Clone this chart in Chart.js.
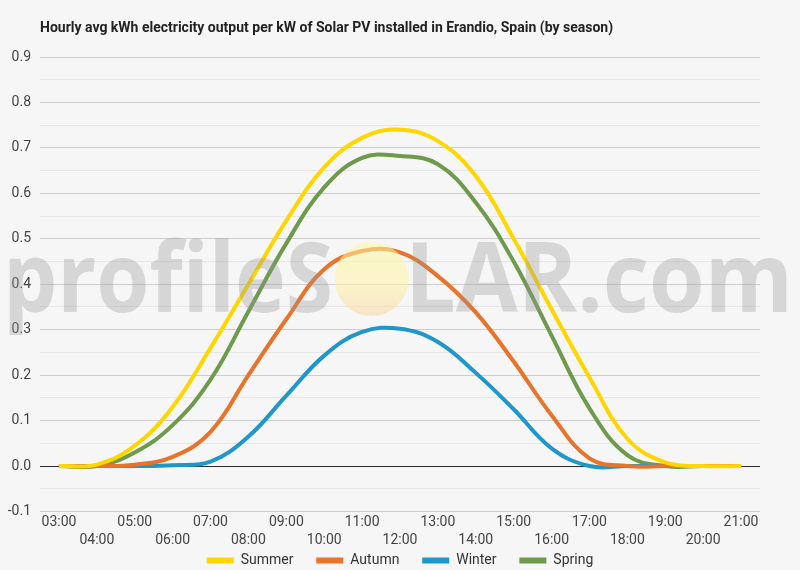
<!DOCTYPE html>
<html>
<head>
<meta charset="utf-8">
<script src="https://cdn.jsdelivr.net/npm/chart.js@4.4.1/dist/chart.umd.min.js"></script>
<style>
html,body{margin:0;padding:0;background:#f6f6f6;}
#wrap{width:800px;height:570px;}
</style>
</head>
<body>
<div id="wrap"><canvas id="c" width="800" height="570"></canvas></div>
<script>
// ---- data ----
const hours = ['03:00','04:00','05:00','06:00','07:00','08:00','09:00','10:00','11:00','12:00',
               '13:00','14:00','15:00','16:00','17:00','18:00','19:00','20:00','21:00'];
const summer = [0, 0.003, 0.045, 0.13, 0.26, 0.40, 0.54, 0.657, 0.722, 0.74, 0.715, 0.638, 0.50, 0.345, 0.195, 0.06, 0.008, 0, 0];
const autumn = [0, 0, 0.003, 0.02, 0.075, 0.20, 0.323, 0.433, 0.473, 0.47, 0.418, 0.338, 0.23, 0.112, 0.017, 0, 0, 0, 0];
const winter = [0, 0, 0, 0.002, 0.01, 0.065, 0.155, 0.243, 0.295, 0.302, 0.273, 0.205, 0.125, 0.039, 0, 0, 0, 0, 0];
const spring = [0, 0, 0.03, 0.09, 0.19, 0.34, 0.49, 0.613, 0.678, 0.682, 0.664, 0.58, 0.45, 0.287, 0.127, 0.024, 0, 0, 0];
const seriesNames = ['Summer', 'Autumn', 'Winter', 'Spring'];
const seriesValues = [summer, autumn, winter, spring];
const seriesColors = ['#ffd600', '#e8732a', '#2196c9', '#6e9a4c'];
const yMin = -0.1, yMax = 0.9, yStep = 0.05;
const titleText = 'Hourly avg kWh electricity output per kW of Solar PV installed in Erandio, Spain (by season)';
const watermarkLeft = 'profileS', watermarkRight = 'LAR.com';

// ---- plugins ----
const bgPlugin = {
  id: 'bg',
  beforeDraw(chart) {
    const ctx = chart.ctx;
    ctx.save();
    ctx.fillStyle = '#f6f6f6';
    ctx.fillRect(0, 0, chart.width, chart.height);
    ctx.restore();
  }
};

function fitText(ctx, text, x0, x1, baseline) {
  const w = ctx.measureText(text).width;
  ctx.save();
  ctx.translate(x0, baseline);
  ctx.scale((x1 - x0) / w, 1);
  ctx.fillText(text, 0, 0);
  ctx.restore();
}

const watermarkPlugin = {
  id: 'watermark',
  afterDatasetsDraw(chart) {
    const ctx = chart.ctx;
    ctx.save();
    const cx = 371.5, cy = 279, r = 37;
    const g = ctx.createLinearGradient(0, cy - r, 0, cy + r);
    g.addColorStop(0, 'rgba(255,248,160,0.55)');
    g.addColorStop(0.55, 'rgba(255,244,165,0.55)');
    g.addColorStop(1, 'rgba(248,212,160,0.55)');
    ctx.fillStyle = g;
    ctx.beginPath();
    ctx.arc(cx, cy, r, 0, Math.PI * 2);
    ctx.fill();
    ctx.fillStyle = 'rgba(150,150,150,0.33)';
    ctx.font = 'bold 96px "Open Sans", Lato, sans-serif';
    ctx.textBaseline = 'alphabetic';
    fitText(ctx, watermarkLeft, 3, 333, 312);
    fitText(ctx, watermarkRight, 405, 793, 312);
    ctx.restore();
  }
};

// ---- chart ----
const datasets = seriesNames.map((name, i) => ({
  label: name,
  data: seriesValues[i],
  borderColor: seriesColors[i],
  backgroundColor: seriesColors[i],
  borderWidth: 4,
  pointRadius: 0,
  pointHoverRadius: 0,
  tension: 0.4,
  fill: false,
  yAxisID: 'y'
}));

const legendGap = '      ';

new Chart(document.getElementById('c'), {
  type: 'line',
  data: { labels: hours, datasets },
  plugins: [bgPlugin, watermarkPlugin],
  options: {
    responsive: false,
    animation: false,
    devicePixelRatio: 1,
    layout: { padding: { left: 0, right: 0, top: 0, bottom: -7.5 } },
    plugins: {
      title: {
        display: true,
        text: titleText,
        align: 'start',
        fullSize: false,
        color: '#222',
        font: { family: 'Roboto', size: 14, weight: 'bold', lineHeight: 1.2 },
        padding: { top: 20, bottom: 20.2 }
      },
      legend: {
        position: 'bottom',
        labels: {
          color: '#333',
          font: { family: 'Roboto', size: 14 },
          boxWidth: 27,
          boxHeight: 6,
          padding: 2,
          generateLabels(chart) {
            const n = chart.data.datasets.length;
            return chart.data.datasets.map((ds, i) => ({
              text: ds.label + (i < n - 1 ? legendGap : ''),
              fillStyle: ds.borderColor,
              strokeStyle: ds.borderColor,
              lineWidth: 0,
              hidden: false,
              datasetIndex: i,
              fontColor: '#333'
            }));
          }
        }
      },
      tooltip: { enabled: false }
    },
    scales: {
      x: {
        offset: true,
        grid: { display: false, drawTicks: false },
        border: { display: false },
        ticks: {
          autoSkip: false,
          maxRotation: 0,
          minRotation: 0,
          padding: 2.5,
          color: '#444',
          font: { family: 'Roboto', size: 14, lineHeight: 1.25 },
          callback(value, index) {
            const l = hours[index];
            return index % 2 === 0 ? l : ['', l];
          }
        }
      },
      y: {
        min: yMin,
        max: yMax,
        border: { display: false },
        grid: {
          drawTicks: false,
          lineWidth: 1,
          color(ctx) {
            const v = ctx.tick ? ctx.tick.value : 0;
            const k = Math.round(v * 100);
            if (k === 0) return '#2a2a2a';
            if (k % 10 === 0) return '#cdcdcd';
            return '#e6e6e6';
          }
        },
        ticks: {
          stepSize: yStep,
          autoSkip: false,
          padding: 9,
          color: '#444',
          font: { family: 'Roboto', size: 14 },
          callback(value) {
            const k = Math.round(value * 100);
            return k % 10 === 0 ? (k / 100).toFixed(1) : '';
          }
        },
        afterFit(scale) { scale.width = 40; }
      },
      yRight: {
        type: 'linear',
        position: 'right',
        display: true,
        grid: { display: false, drawTicks: false },
        border: { display: false },
        ticks: { display: false },
        afterFit(scale) { scale.width = 40; }
      }
    }
  }
});
</script>
</body>
</html>
